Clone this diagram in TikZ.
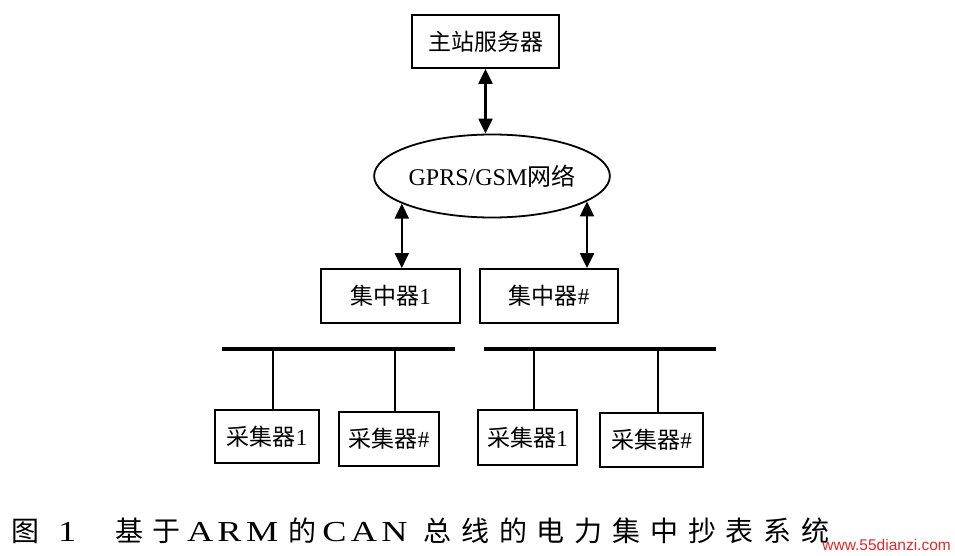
\documentclass[tikz,border=0pt]{standalone}
\usepackage{fontspec}
\setmainfont{Liberation Serif}
\newfontfamily\cjk{Noto Sans CJK SC}
\newfontfamily\capcjk[LetterSpace=35]{Noto Sans CJK SC}
\newfontfamily\capserif[FakeStretch=1.25,LetterSpace=15]{Liberation Serif}
\newfontfamily\wmfont{Liberation Sans}
\usepackage{xcolor}
\usepackage{tikz}
\usetikzlibrary{positioning,arrows.meta,shapes.geometric}
\definecolor{wmred}{RGB}{226,40,40}
\tikzset{
  unit/.style={draw, line width=1.8pt, inner sep=0pt, font=\fontsize{23}{27}\selectfont},
  net/.style={ellipse, draw, line width=1.8pt, inner sep=0pt, font=\fontsize{24}{28}\selectfont},
  biarr/.style={{Triangle[length=15pt,width=14pt]}-{Triangle[length=15pt,width=14pt]}, line width=2.2pt},
  bus/.style={line width=4.5pt},
  drop/.style={line width=2pt},
  capt/.style={anchor=west, inner sep=0pt, font=\fontsize{28}{32}\selectfont},
}
\begin{document}
\begin{tikzpicture}[x=1pt,y=-1pt]
    \useasboundingbox (0,0) rectangle (955,556);
    % server and network
    \node[unit, minimum width=147pt, minimum height=53pt] (srv) at (485.5,41.5) {\cjk 主站服务器};
    \node[net, minimum width=215pt, minimum height=83pt] (gsm) at (492,176) {GPRS/GSM{\cjk 网络}};
    % concentrators
    \node[unit, minimum width=139pt, minimum height=54pt] (conc1) at (390.5,296) {{\cjk 集中器}1};
    \node[unit, minimum width=138pt, minimum height=54pt] (concN) at (549,296) {{\cjk 集中器}\#};
    % collectors
    \node[unit, minimum width=104pt, minimum height=53pt] (coll1) at (267,436.5) {{\cjk 采集器}1};
    \node[unit, minimum width=100pt, minimum height=54pt] (coll2) at (389,439) {{\cjk 采集器}\#};
    \node[unit, minimum width=99pt, minimum height=55pt] (coll3) at (527.5,437.5) {{\cjk 采集器}1};
    \node[unit, minimum width=103pt, minimum height=54pt] (coll4) at (651.5,440) {{\cjk 采集器}\#};
    % arrows
    \draw[biarr] (srv.south) -- (srv.south |- gsm.north);
    \draw[biarr] (gsm.-163) -- (gsm.-163 |- conc1.north);
    \draw[biarr] (gsm.-15) -- (gsm.-15 |- concN.north);
    % CAN buses
    \coordinate (busL-w) at (222,349);
    \coordinate (busL-e) at (455,349);
    \coordinate (busR-w) at (484,349);
    \coordinate (busR-e) at (716,349);
    \draw[bus] (busL-w) -- (busL-e);
    \draw[bus] (busR-w) -- (busR-e);
    \draw[drop] ([xshift=6pt]coll1.north) -- ([xshift=6pt]coll1.north |- busL-w);
    \draw[drop] ([xshift=6pt]coll2.north) -- ([xshift=6pt]coll2.north |- busL-w);
    \draw[drop] ([xshift=6pt]coll3.north) -- ([xshift=6pt]coll3.north |- busR-w);
    \draw[drop] ([xshift=6pt]coll4.north) -- ([xshift=6pt]coll4.north |- busR-w);
    % caption
    \node[capt] (fignum) at (11,531) {{\cjk 图}\hspace{19pt}{\capserif\fontsize{29}{32}\selectfont 1}};
    \node[capt] (caption) at (115,531)
      {{\capcjk 基于}\hspace{6pt}{\capserif\fontsize{29}{32}\selectfont ARM}\hspace{10pt}{\capcjk 的}\hspace{6pt}{\capserif\fontsize{29}{32}\selectfont CAN}\hspace{16pt}{\capcjk 总线的电力集中抄表系统}};
    \node[anchor=east, inner sep=0pt, text=wmred, font=\wmfont\fontsize{15.5}{17}\selectfont] (wmark) at (951,545) {www.55dianzi.com};
\end{tikzpicture}
\end{document}
